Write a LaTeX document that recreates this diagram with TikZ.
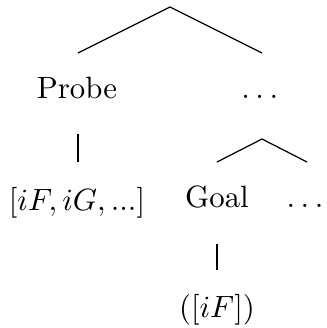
\documentclass[tikz,border=0pt]{standalone}
\newcommand{\mydots}{.\kern1.8pt.\kern1.8pt.}
\begin{document}
\begin{tikzpicture}[x=0.3247pt,y=-0.3247pt,
  lbl/.style={anchor=base,inner sep=0pt,outer sep=0pt},
  edge/.style={draw=black,line width=0.4pt}]
\useasboundingbox (0,0) rectangle (327,328);
\coordinate (root) at (170,7);
\coordinate (rl) at (78,53);
\coordinate (rr) at (262,53);
\node[lbl] (probe) at (77,98) {Probe};
\node[lbl] (dots1) at (259.7,98.5) {\mydots};
\coordinate (pt) at (78,134);
\coordinate (pb) at (78,162);
\coordinate (dt) at (262,139);
\coordinate (dl) at (217,162);
\coordinate (dr) at (307,162);
\node[lbl] (feat) at (77,210) {$[iF, iG, ...]$};
\node[lbl] (goal) at (217,207) {Goal};
\node[lbl] (dots2) at (305,207) {\mydots};
\coordinate (gt) at (217,244);
\coordinate (gb) at (217,270);
\node[lbl] (gf) at (217,317) {$([iF])$};
\draw[edge] (rl) -- (root) -- (rr);
\draw[edge] (pt) -- (pb);
\draw[edge] (dl) -- (dt) -- (dr);
\draw[edge] (gt) -- (gb);
\end{tikzpicture}
\end{document}
